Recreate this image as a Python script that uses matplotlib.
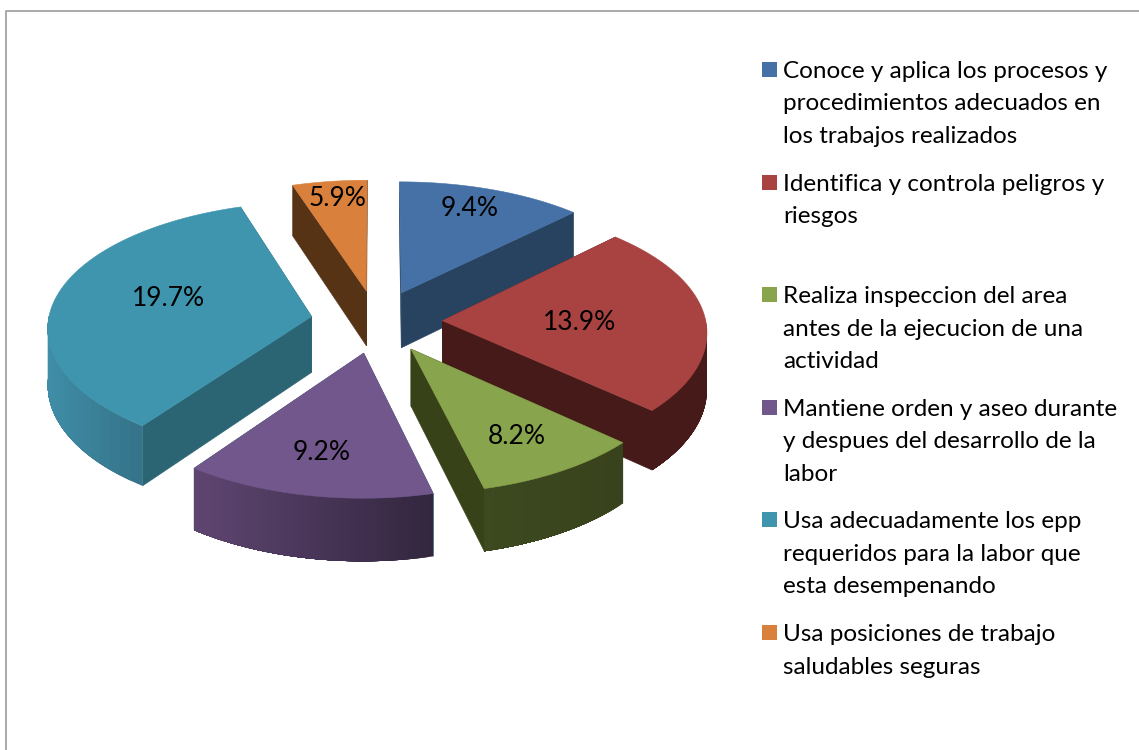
# 3D exploded pie, drawn by hand because matplotlib pie has no depth
import numpy as np
import matplotlib
matplotlib.use("Agg")
import matplotlib.pyplot as plt
from matplotlib.colors import to_rgb
from matplotlib.patches import Polygon, Rectangle

# share of the circle each slice takes
shares = [12.5, 24.2, 9.4, 13.9, 35.0, 5.0]
# printed labels, these do not follow the angles in the original
pct_labels = ["9.4%", "13.9%", "8.2%", "9.2%", "19.7%", "5.9%"]
legend_lines = [
    ["Conoce y aplica los procesos y", "procedimientos adecuados en", "los trabajos realizados"],
    ["Identifica y controla peligros y", "riesgos"],
    ["Realiza inspeccion del area", "antes de la ejecucion de una", "actividad"],
    ["Mantiene orden y aseo durante", "y despues del desarrollo de la", "labor"],
    ["Usa adecuadamente los epp", "requeridos para la labor que", "esta desempenando"],
    ["Usa posiciones de trabajo", "saludables seguras"],
]
top_colors = ["#4571a6", "#a84341", "#88a44c", "#71578c", "#4095ae", "#d9803c"]
cut_colors = ["#284360", "#451a18", "#384219", "#2b6473", "#2b6473", "#573316"]
wall_left = ["#284360", "#451a18", "#3d4a20", "#5f4672", "#408ea8", "#573316"]
wall_right = ["#284360", "#451a18", "#38421c", "#33263f", "#35748a", "#573316"]

# label centres in pixels
label_xy = [(470, 208), (580, 323), (517, 436), (322, 452), (168, 299), (338, 198)]

# projection settings, in pixels of the 1139x750 image
cx, cy = 376.5, 321.5
rx, ry = 263.5, 126
persp_x = 0.078
persp_y = 0.09
explode = 0.25
depth = 56


def project(u, v, z=0.0):
    # u to the right, v away from the viewer, z = 1 is the bottom of the slab
    sx = 1 / (1 + persp_x * v)
    sy = 1 / (1 + persp_y * v)
    return cx + rx * u * sx, cy - ry * v * sy + z * depth * sy


def blend(c1, c2, f):
    a, b = np.array(to_rgb(c1)), np.array(to_rgb(c2))
    return tuple(a + (b - a) * f)


fig = plt.figure(figsize=(11.39, 7.5), dpi=100)
ax = fig.add_axes([0, 0, 1, 1])
ax.set_xlim(0, 1139)
ax.set_ylim(750, 0)
ax.axis("off")

# chart frame, runs off the image right and bottom
ax.plot([6, 6, 1139], [750, 10.5, 10.5], color="#a3a3a3", lw=1.3, zorder=1)

total = sum(shares)
edges = np.cumsum([0] + shares) / total * 2 * np.pi
starts, ends = edges[:-1], edges[1:]
mids = (starts + ends) / 2

# far slices first so near slices paint over them
order = np.argsort(-np.cos(mids))
z = 2
for i in order:
    du = explode * np.sin(mids[i])
    dv = explode * np.cos(mids[i])
    ang = np.linspace(starts[i], ends[i], 80)
    us = du + np.sin(ang)
    vs = dv + np.cos(ang)

    # two cut faces
    for (a, b) in [((du, dv), (us[0], vs[0])), ((us[-1], vs[-1]), (du, dv))]:
        quad = [project(a[0], a[1]), project(b[0], b[1]), project(b[0], b[1], 1), project(a[0], a[1], 1)]
        ax.add_patch(Polygon(quad, fc=cut_colors[i], ec=cut_colors[i], lw=0.4, zorder=z))

    # outer wall in bands, each band painted through to the end so no seams show
    vis = np.where(np.cos(ang) < 0.03)[0]
    if len(vis) > 1:
        xs = project(us[vis], vs[vis])[0]
        first, last = vis[0], vis[-1]
        for k in range(first, last, 2):
            f = (project(us[k], vs[k])[0] - xs.min()) / max(xs.max() - xs.min(), 1)
            col = blend(wall_left[i], wall_right[i], f)
            upper = [project(us[m], vs[m]) for m in range(k, last + 1)]
            lower = [project(us[m], vs[m], 1) for m in range(last, k - 1, -1)]
            ax.add_patch(Polygon(upper + lower, fc=col, ec="none", zorder=z + 0.1))

    # top face
    top = [project(du, dv)] + [project(a, b) for a, b in zip(us, vs)]
    ax.add_patch(Polygon(top, fc=top_colors[i], ec=top_colors[i], lw=0.4, zorder=z + 0.2))
    z += 1

for txt, (lx, ly) in zip(pct_labels, label_xy):
    ax.text(lx, ly, txt, fontsize=19, family="Lato", color="black", ha="center", va="center", zorder=20)

# legend is laid out by hand, entries sit at a fixed step whatever their line count
for n, lines in enumerate(legend_lines):
    y0 = 78 + n * 112.6
    ax.add_patch(Rectangle((761.5, y0 - 16), 15, 15, fc=top_colors[n], ec="none", zorder=20))
    for j, line in enumerate(lines):
        ax.text(783, y0 + j * 32.5, line, fontsize=17.5, family="Lato", color="black",
                ha="left", va="baseline", zorder=20)

fig.savefig("out.png", dpi=100)
